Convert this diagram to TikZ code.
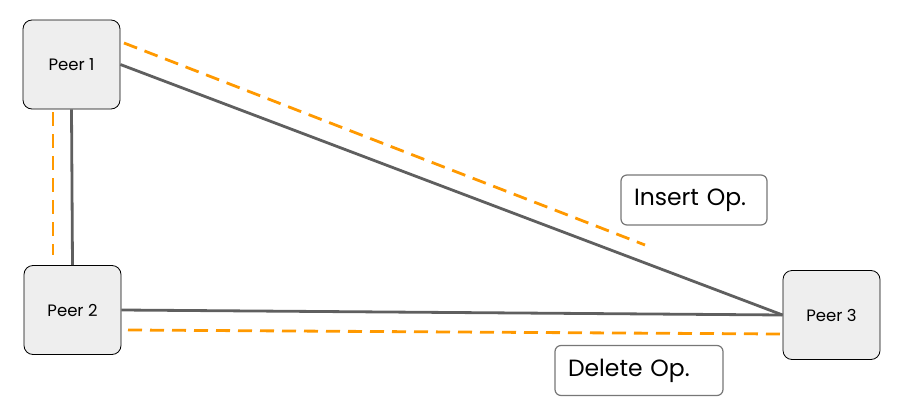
\documentclass[tikz,border=0pt]{standalone}
\usepackage{fontspec}
\setmainfont{Poppins}
\usetikzlibrary{calc}
\definecolor{peerfill}{HTML}{EEEEEE}
\definecolor{linkgray}{HTML}{5F5F5F}
\definecolor{oporange}{HTML}{FF9900}
\definecolor{opborder}{HTML}{777777}

\begin{document}
\begin{tikzpicture}[
  x=1pt, y=-1pt,
  peer/.style={
    draw, fill=peerfill, rounded corners=9pt, line width=0.8pt,
    minimum width=97pt, minimum height=89pt,
    font=\fontsize{16.5}{19}\selectfont,
  },
  opbox/.style={
    draw=opborder, fill=white, rounded corners=6pt, line width=1.2pt,
    align=left, inner xsep=13pt, minimum height=50pt,
    font=\fontsize{23.5}{27}\selectfont,
  },
  link/.style={linkgray, line width=2.8pt},
  opline/.style={oporange, line width=2.8pt, dash pattern=on 14pt off 8pt},
]

  \useasboundingbox (0,0) rectangle (908,415);

  \node [peer] (p1) at (71.5,64.5) {Peer 1};
  \node [peer] (p2) at (72.5,310) {Peer 2};
  \node [peer] (p3) at (831.5,315) {Peer 3};

  \path (p1.east) edge [link] (p3.west)
        (p2.east) edge [link] (p3.west)
        (p1.south) edge [link] (p2.north);

  % operation paths
  \coordinate (ia) at (124,43);
  \coordinate (ib) at (645,245);
  \coordinate (va) at (53,112);
  \coordinate (vb) at (53,255);
  \coordinate (da) at (128,330);
  \coordinate (db) at (781,334);
  \draw [opline] (ia) -- (ib);
  \draw [opline] (va) -- (vb);
  \draw [opline] (da) -- (db);

  \node [opbox, text width=120pt] (ins) at (694,200) {Insert Op.};
  \node [opbox, text width=142pt] (del) at (639,370.5) {Delete Op.};

\end{tikzpicture}
\end{document}
